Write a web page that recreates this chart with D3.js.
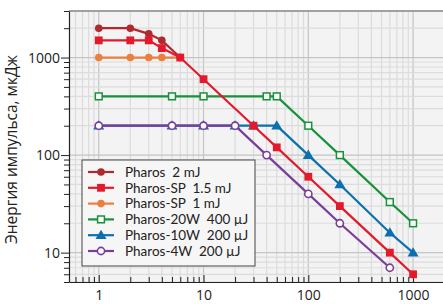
<!DOCTYPE html>
<meta charset="utf-8">
<script src="https://d3js.org/d3.v7.min.js"></script>
<style>
  body { margin: 0px; background: #fff; }
  text { font-family: "Open Sans", sans-serif; }
  .tick text { fill: #222; font-size: 14px; }
  .legend-text { font-family: Lato, sans-serif; white-space: pre; }
</style>
<div id="my_dataviz"></div>
<script>

// series data: x = repetition rate (kHz), y = pulse energy
const seriesNames = ['Pharos  2 mJ', 'Pharos-SP  1.5 mJ', 'Pharos-SP  1 mJ', 'Pharos-20W  400 µJ', 'Pharos-10W  200 µJ', 'Pharos-4W  200 µJ'];
const pharos2X = [1, 2, 3, 4, 6];
const pharos2Y = [2000, 2000, 1750, 1500, 1000];
const sp15X = [1, 2, 3, 4, 6, 10, 30, 50, 100, 200, 600, 1000];
const sp15Y = [1500, 1500, 1500, 1250, 1000, 600, 200, 120, 60, 30, 10, 6];
const sp1X = [1, 2, 3, 4, 6];
const sp1Y = [1000, 1000, 1000, 1000, 1000];
const w20X = [1, 5, 10, 40, 50, 100, 200, 600, 1000];
const w20Y = [400, 400, 400, 400, 400, 200, 100, 33, 20];
const w10X = [1, 5, 10, 20, 30, 50, 100, 200, 600, 1000];
const w10Y = [200, 200, 200, 200, 200, 200, 100, 50, 16, 10];
const w4X = [1, 5, 10, 20, 40, 100, 200, 600];
const w4Y = [200, 200, 200, 200, 100, 40, 20, 7];
const xTicks = [1, 10, 100, 1000];
const yTicks = [10, 100, 1000];
const yLabel = 'Энергия импульса, мкДж';

var margin = {top: 11, right: 0, bottom: 22, left: 69},
    width = 443 - margin.left - margin.right,
    height = 304 - margin.top - margin.bottom;

var svg = d3.select("#my_dataviz")
  .append("svg")
    .attr("width", 443)
    .attr("height", 304)
  .append("g")
    .attr("transform", "translate(" + margin.left + "," + margin.top + ")");

var x = d3.scaleLog().domain([0.52, 1930]).range([0, width]);
var y = d3.scaleLog().domain([5.0, 3000]).range([height, 0]);

// plot background
svg.append("rect").attr("width", width).attr("height", height).style("fill", "#f3f3f3");

// grid
var xMinor = [];
[0.1, 1, 10, 100].forEach(function(d) { for (var k = 1; k < 10; k++) xMinor.push(d * k); });
xMinor.push(1000);
xMinor = xMinor.filter(function(v) { return v >= 0.52 && v <= 1000; });
var yMinor = [];
[1, 10, 100, 1000].forEach(function(d) { for (var k = 1; k < 10; k++) yMinor.push(d * k); });
yMinor = yMinor.filter(function(v) { return v >= 5 && v <= 3000; });

svg.selectAll(".vgrid").data(xMinor).enter().append("line")
  .attr("x1", function(d) { return x(d); }).attr("x2", function(d) { return x(d); })
  .attr("y1", 0).attr("y2", height)
  .style("stroke", function(d) { return xTicks.indexOf(d) >= 0 ? "#c4c4c4" : "#dcdcdc"; })
  .style("stroke-width", 1.2);
svg.selectAll(".hgrid").data(yMinor).enter().append("line")
  .attr("y1", function(d) { return y(d); }).attr("y2", function(d) { return y(d); })
  .attr("x1", 0).attr("x2", width)
  .style("stroke", function(d) { return yTicks.indexOf(d) >= 0 ? "#c4c4c4" : "#dcdcdc"; })
  .style("stroke-width", 1.2);

// top border
svg.append("line").attr("x1", 0).attr("x2", width).attr("y1", 0).attr("y2", 0)
  .style("stroke", "#888").style("stroke-width", 1.5);

// axes
var xAxis = svg.append("g")
  .attr("transform", "translate(0," + height + ")")
  .call(d3.axisBottom(x).tickValues(xMinor).tickSizeInner(-5).tickSizeOuter(0)
    .tickFormat(function(d) { return xTicks.indexOf(d) >= 0 ? d3.format("d")(d) : ""; }));
xAxis.selectAll(".tick text").attr("y", 8);
xAxis.selectAll(".tick line").attr("y2", function(d) { return xTicks.indexOf(d) >= 0 ? -7 : -5; });

var yAxis = svg.append("g")
  .call(d3.axisLeft(y).tickValues(yMinor).tickSizeInner(5).tickSizeOuter(0)
    .tickFormat(function(d) { return yTicks.indexOf(d) >= 0 ? d3.format("d")(d) : ""; }));
yAxis.selectAll(".tick line").attr("x2", function(d) { return yTicks.indexOf(d) >= 0 ? -8 : -5; });
yAxis.selectAll(".tick text").attr("x", -9);
svg.selectAll(".domain").style("stroke", "#222").style("stroke-width", 1.2);
svg.selectAll(".tick line").style("stroke", "#222");

svg.append("text")
  .attr("transform", "rotate(-90)")
  .attr("x", -height / 2 - 3)
  .attr("y", -52)
  .style("text-anchor", "middle")
  .style("font-size", "15.5px")
  .style("fill", "#222")
  .text(yLabel);

// series
var series = [
  {name: seriesNames[0], xs: pharos2X, ys: pharos2Y, color: "#b1282f", shape: "circle", open: false},
  {name: seriesNames[1], xs: sp15X, ys: sp15Y, color: "#e3192c", shape: "square", open: false},
  {name: seriesNames[2], xs: sp1X, ys: sp1Y, color: "#ec7f3d", shape: "circle", open: false},
  {name: seriesNames[3], xs: w20X, ys: w20Y, color: "#16923a", shape: "square", open: true},
  {name: seriesNames[4], xs: w10X, ys: w10Y, color: "#0c70ae", shape: "triangle", open: false},
  {name: seriesNames[5], xs: w4X, ys: w4Y, color: "#7a3d9c", shape: "circle", open: true}
];

var line = d3.line().x(function(d) { return x(d[0]); }).y(function(d) { return y(d[1]); });

function marker(g, s, cx, cy) {
  var fill = s.open ? "#fff" : s.color;
  if (s.shape === "circle") {
    g.append("circle").attr("cx", cx).attr("cy", cy).attr("r", s.open ? 3.6 : 3.8)
      .style("fill", fill).style("stroke", s.color).style("stroke-width", s.open ? 1.6 : 0);
  } else if (s.shape === "square") {
    var h = s.open ? 3.4 : 3.9;
    g.append("rect").attr("x", cx - h).attr("y", cy - h).attr("width", 2 * h).attr("height", 2 * h)
      .style("fill", fill).style("stroke", s.color).style("stroke-width", s.open ? 1.5 : 0);
  } else {
    var r = 5.5;
    g.append("path")
      .attr("d", "M" + cx + "," + (cy - r) + "L" + (cx + r) + "," + (cy + r * 0.7) + "L" + (cx - r) + "," + (cy + r * 0.7) + "Z")
      .style("fill", fill);
  }
}

// draw in an order so that overlaps look like the reference
var drawOrder = [4, 3, 5, 2, 0, 1];
drawOrder.forEach(function(i) {
  var s = series[i];
  var pts = s.xs.map(function(v, j) { return [v, s.ys[j]]; });
  var g = svg.append("g");
  g.append("path").datum(pts).attr("d", line)
    .style("fill", "none").style("stroke", s.color).style("stroke-width", 2.2);
  pts.forEach(function(p) { marker(g, s, x(p[0]), y(p[1])); });
});

// legend
var lg = svg.append("g").attr("transform", "translate(" + (82 - margin.left) + "," + (160 - margin.top) + ")");
lg.append("rect").attr("width", 173).attr("height", 106)
  .style("fill", "#f6f6f6").style("stroke", "#444").style("stroke-width", 1);
series.forEach(function(s, i) {
  var cy = 12 + i * 15.8;
  var row = lg.append("g");
  row.append("line").attr("x1", 6).attr("x2", 32).attr("y1", cy).attr("y2", cy)
    .style("stroke", s.color).style("stroke-width", 2.2);
  marker(row, s, 19, cy);
  row.append("text").attr("class", "legend-text").attr("x", 43).attr("y", cy).attr("dy", "0.36em")
    .style("font-size", "13.5px").style("fill", "#222").text(s.name);
});

</script>
